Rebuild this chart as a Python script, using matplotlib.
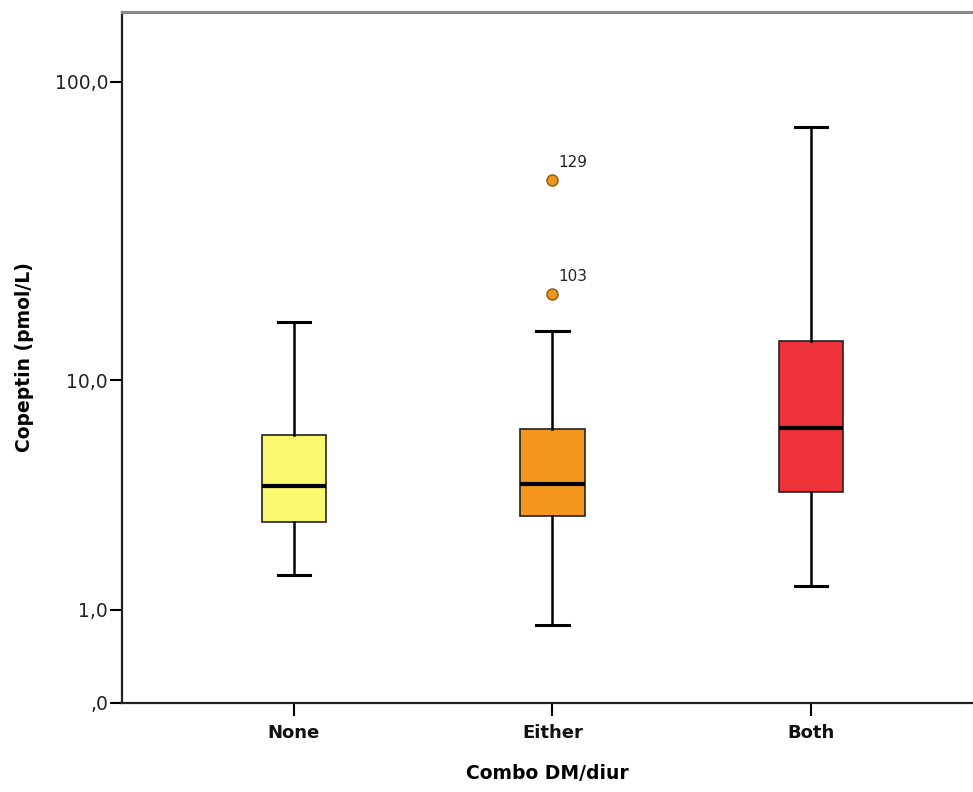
import numpy as np
import matplotlib
matplotlib.use("Agg")
import matplotlib.pyplot as plt

# Copeptin (pmol/L) by combination of diabetes mellitus / diuretic use
groups = ["None", "Either", "Both"]
whisker_low = [1.59, 0.79, 1.39]
q1 = [2.84, 3.02, 3.80]
median = [4.02, 4.09, 6.72]
q3 = [6.33, 6.66, 13.7]
whisker_high = [16.0, 14.9, 71.3]
box_colors = ["#F9F86E", "#F4971E", "#EE3239"]

# Outliers (value, case number) per group
outlier_values = [[], [47.8, 19.9], []]
outlier_ids = [[], ["129", "103"], []]

y_ticks = [0, 1, 10, 100]
y_ticklabels = [",0", "1,0", "10,0", "100,0"]


def fwd(v):
    return np.log10(np.asarray(v, dtype=float) + 1.0)


def inv(t):
    return 10.0 ** np.asarray(t, dtype=float) - 1.0


fig = plt.figure(figsize=(9.73, 7.92), dpi=100)
ax = fig.add_axes([122 / 973, 1 - 703 / 792, 1 - 122 / 973, (703 - 12) / 792])
ax.set_yscale("function", functions=(fwd, inv))

stats = []
for i, g in enumerate(groups):
    stats.append(dict(label=g, whislo=whisker_low[i], q1=q1[i], med=median[i],
                      q3=q3[i], whishi=whisker_high[i], fliers=[]))

bp = ax.bxp(stats, positions=range(len(groups)), widths=0.25, patch_artist=True,
            showfliers=False,
            boxprops=dict(linewidth=1.2, edgecolor="#222222"),
            medianprops=dict(color="black", linewidth=3),
            whiskerprops=dict(color="black", linewidth=1.8),
            capprops=dict(color="black", linewidth=2.2),
            capwidths=0.125)
for patch, c in zip(bp["boxes"], box_colors):
    patch.set_facecolor(c)

for i, (vals, ids) in enumerate(zip(outlier_values, outlier_ids)):
    for v, lab in zip(vals, ids):
        ax.plot(i, v, "o", markersize=8, markerfacecolor="#E8961F",
                markeredgecolor="#8A5A10", markeredgewidth=1.0, zorder=4)
        ax.annotate(lab, (i, v), xytext=(4, 7), textcoords="offset points",
                    fontsize=11, color="#222222", ha="left", va="bottom")

ax.set_xlim(-0.665, 2.627)
ax.set_ylim(0, inv(2.2297))

ax.set_yticks(y_ticks)
ax.set_yticklabels(y_ticklabels, fontsize=13.5, color="#222222")
ax.minorticks_off()
ax.set_xticks(range(len(groups)))
ax.set_xticklabels(groups, fontsize=13, fontweight="bold", color="#111111")
ax.tick_params(axis="y", length=9, width=1.5, pad=1)
ax.tick_params(axis="x", length=9, width=1.5, pad=6)

for side in ("left", "bottom"):
    ax.spines[side].set_color("#222222")
    ax.spines[side].set_linewidth(1.6)
ax.spines["top"].set_color("#8A8A8A")
ax.spines["top"].set_linewidth(2.2)
ax.spines["right"].set_visible(False)

ax.set_xlabel("Combo DM/diur", fontsize=13.5, fontweight="bold", labelpad=16)
ax.set_ylabel("Copeptin (pmol/L)", fontsize=13.5, fontweight="bold", labelpad=15)

fig.savefig("out.png", dpi=100)
